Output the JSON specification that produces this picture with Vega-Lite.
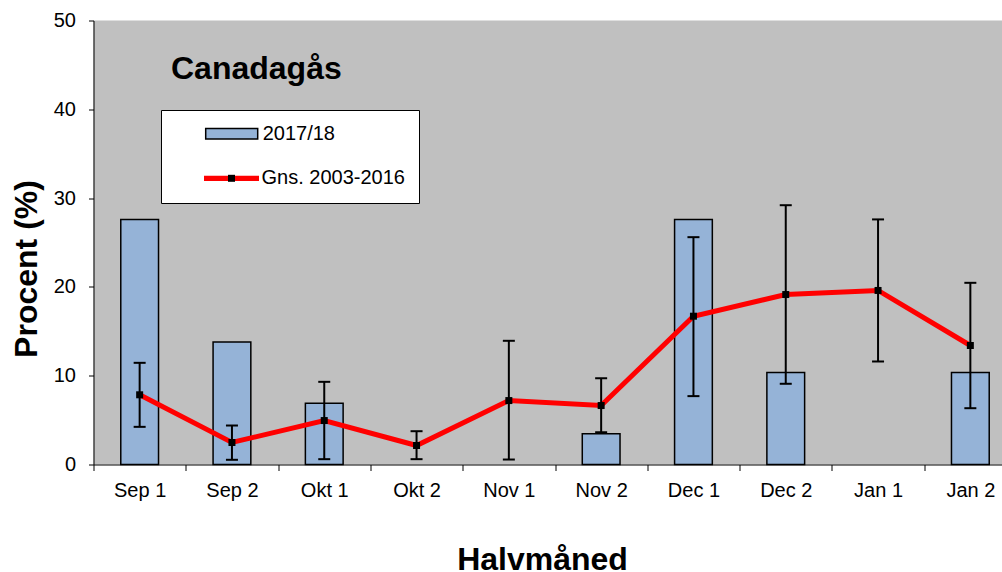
{
  "$schema": "https://vega.github.io/schema/vega-lite/v6.json",
  "width": 908.5,
  "height": 444,
  "autosize": {"type": "none"},
  "padding": {"left": 93.5, "top": 20.5, "right": 0, "bottom": 107.5},
  "background": "white",
  "view": {"fill": "#C0C0C0", "stroke": null},
  "config": {
    "font": "Liberation Sans",
    "axis": {"grid": false, "domainColor": "black", "tickColor": "black", "labelColor": "black", "titleColor": "black", "labelFontSize": 20, "titleFontSize": 32, "titleFontWeight": "bold"}
  },
  "title": {"text": "Canadagås", "anchor": "start", "frame": "group", "orient": "top", "offset": 0, "dx": 77.5, "dy": 100, "baseline": "alphabetic", "fontSize": 32, "fontWeight": "bold", "color": "black"},
  "data": {"values": [
    {"cat": "Sep 1", "bar": 27.6, "mean": 7.85, "lo": 4.24, "hi": 11.45},
    {"cat": "Sep 2", "bar": 13.8, "mean": 2.48, "lo": 0.53, "hi": 4.39},
    {"cat": "Okt 1", "bar": 6.9, "mean": 4.95, "lo": 0.6, "hi": 9.31},
    {"cat": "Okt 2", "bar": 0, "mean": 2.14, "lo": 0.6, "hi": 3.75},
    {"cat": "Nov 1", "bar": 0, "mean": 7.2, "lo": 0.56, "hi": 13.93},
    {"cat": "Nov 2", "bar": 3.45, "mean": 6.64, "lo": 3.64, "hi": 9.72},
    {"cat": "Dec 1", "bar": 27.6, "mean": 16.7, "lo": 7.7, "hi": 25.6},
    {"cat": "Dec 2", "bar": 10.35, "mean": 19.14, "lo": 9.09, "hi": 29.2},
    {"cat": "Jan 1", "bar": 0, "mean": 19.6, "lo": 11.6, "hi": 27.6},
    {"cat": "Jan 2", "bar": 10.35, "mean": 13.4, "lo": 6.34, "hi": 20.46}
  ]},
  "encoding": {
    "x": {
      "field": "cat", "type": "nominal", "sort": null,
      "scale": {"domain": ["Sep 1", "Sep 2", "Okt 1", "Okt 2", "Nov 1", "Nov 2", "Dec 1", "Dec 2", "Jan 1", "Jan 2"], "paddingInner": 0, "paddingOuter": 0, "range": [0, 923]},
      "axis": {"title": "Halvmåned", "labelAngle": 0, "tickBand": "extent", "tickSize": 6, "labelPadding": 10, "titleX": 448.5, "titleY": 105, "titleBaseline": "alphabetic", "titleAnchor": "middle", "titleAlign": "center"}
    }
  },
  "layer": [
    {
      "transform": [{"filter": "datum.bar > 0"}],
      "mark": {"type": "bar", "width": {"band": 0.409}, "stroke": "black", "strokeWidth": 1.5},
      "encoding": {
        "y": {"field": "bar", "type": "quantitative",
          "scale": {"domain": [0, 50], "nice": false},
          "axis": {"title": "Procent (%)", "values": [0, 10, 20, 30, 40, 50], "tickSize": 5, "labelPadding": 13, "titleX": -57, "titleY": 248, "titleBaseline": "alphabetic", "titleAngle": 270, "titleAlign": "center", "titleAnchor": "middle"}},
        "fill": {
          "datum": "2017/18", "type": "nominal",
          "scale": {"domain": ["2017/18", "Gns. 2003-2016"], "range": ["#95B3D7", "transparent"]},
          "legend": {
            "orient": "none", "legendX": 67.5, "legendY": 89.5,
            "title": "\u00a0", "titleOrient": "left", "titleFontSize": 1, "titlePadding": 30.5,
            "padding": 12.7, "fillColor": "white", "strokeColor": "black",
            "symbolType": "M-2.6,-0.52H2.6V0.52H-2.6Z", "symbolSize": 400, "symbolOffset": 16.5,
            "symbolStrokeColor": "black", "symbolStrokeWidth": 1.5, "symbolOpacity": 1,
            "labelFontSize": 20, "labelColor": "black", "labelOffset": 20, "labelLimit": 300,
            "rowPadding": 25.6, "zindex": 1
          }
        }
      }
    },
    {
      "mark": {"type": "line", "strokeWidth": 5},
      "encoding": {
        "y": {"field": "mean", "type": "quantitative"},
        "stroke": {
          "datum": "Gns. 2003-2016", "type": "nominal",
          "scale": {"domain": ["Gns. 2003-2016"], "range": ["#FF0000"]},
          "legend": {
            "orient": "none", "legendX": 106.5, "legendY": 142.8,
            "title": null, "padding": 5, "fillColor": "white",
            "symbolType": "M-2.75,-0.265H2.75V0.265H-2.75Z", "symbolSize": 400, "symbolOffset": 16.5,
            "symbolFillColor": "#FF0000", "symbolStrokeWidth": 0, "symbolOpacity": 1,
            "labelFontSize": 20, "labelColor": "black", "labelOffset": 20, "labelLimit": 300,
            "zindex": 2
          }
        }
      }
    },
    {
      "mark": {"type": "rule", "color": "black", "strokeWidth": 2},
      "encoding": {
        "y": {"field": "lo", "type": "quantitative"},
        "y2": {"field": "hi"}
      }
    },
    {
      "mark": {"type": "tick", "color": "black", "size": 12, "thickness": 2, "opacity": 1},
      "encoding": {"y": {"field": "lo", "type": "quantitative"}}
    },
    {
      "mark": {"type": "tick", "color": "black", "size": 12, "thickness": 2, "opacity": 1},
      "encoding": {"y": {"field": "hi", "type": "quantitative"}}
    },
    {
      "mark": {"type": "point", "filled": true, "color": "black", "size": 49, "opacity": 1},
      "encoding": {
        "y": {"field": "mean", "type": "quantitative"},
        "shape": {
          "datum": "m", "type": "nominal",
          "scale": {"domain": ["m"], "range": ["square"]},
          "legend": {"orient": "none", "legendX": 134.5, "legendY": 154.3, "title": null, "padding": 0,
            "symbolSize": 49, "symbolType": "square", "symbolFillColor": "black", "symbolStrokeWidth": 0,
            "labelExpr": "''", "labelFontSize": 1, "labelOffset": 0, "zindex": 3}
        }
      }
    }
  ]
}
